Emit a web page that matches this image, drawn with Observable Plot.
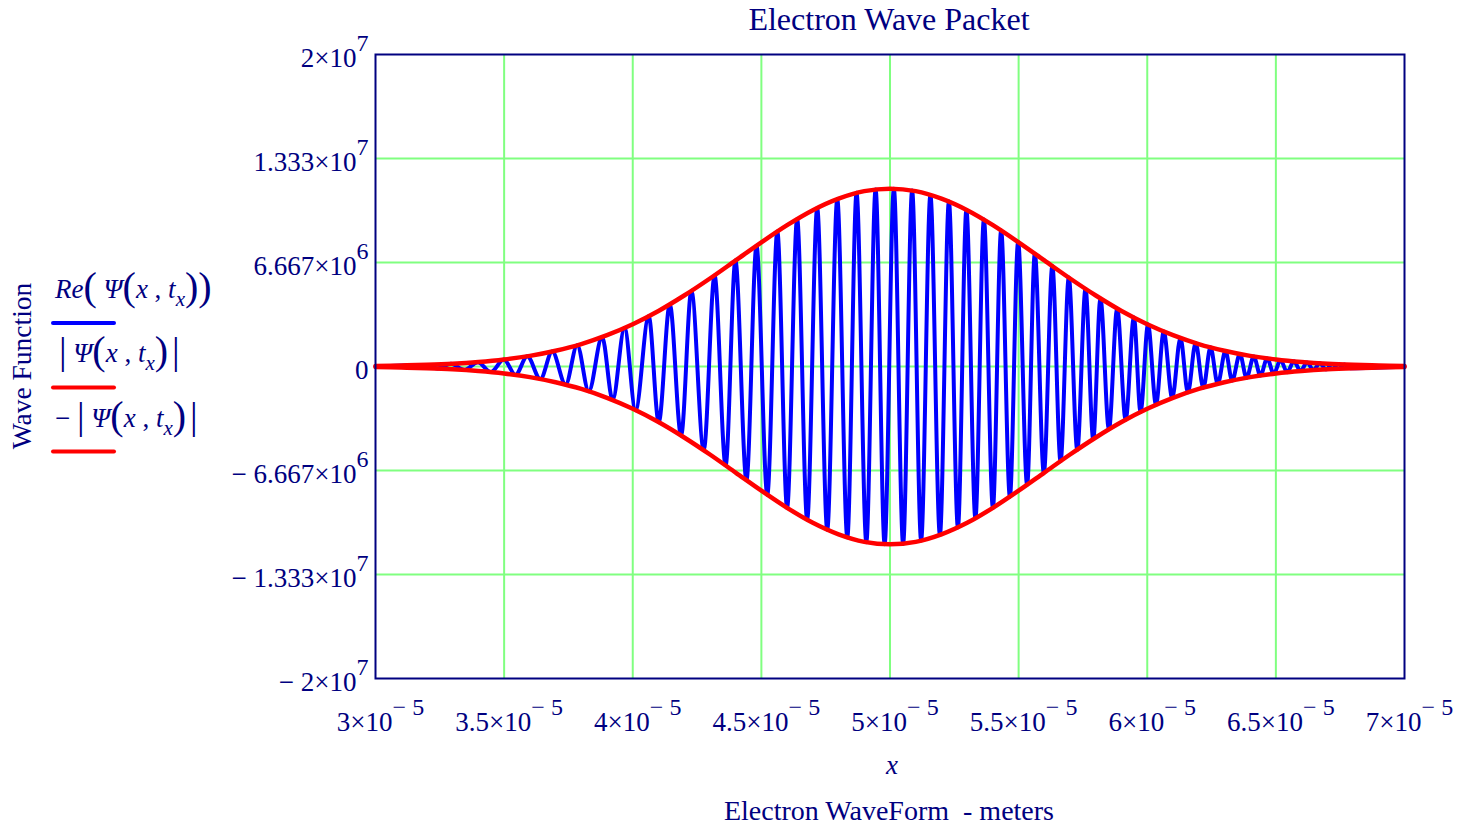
<!DOCTYPE html>
<html>
<head>
<meta charset="utf-8">
<script src="https://cdn.jsdelivr.net/npm/d3@7"></script>
<script src="https://cdn.jsdelivr.net/npm/@observablehq/plot@0.6"></script>
<style>
  body { margin: 0; background: #fff; }
  #chart { position: relative; width: 1474px; height: 827px; }
</style>
</head>
<body>
<div id="chart"></div>
<script>
// Position x in units of 1e-5 m, wave function values in units of 1e6
const waveX = [3.0,
  3.187, 3.241, 3.293, 3.346, 3.398, 3.448, 3.499, 3.544, 3.590, 3.641,
  3.687, 3.739, 3.784, 3.829, 3.881, 3.922, 3.968, 4.011, 4.062, 4.101,
  4.144, 4.188, 4.228, 4.276, 4.318, 4.361, 4.399, 4.442, 4.481, 4.523,
  4.562, 4.600, 4.639, 4.678, 4.717, 4.756, 4.795, 4.834, 4.870, 4.908,
  4.944, 4.979, 5.015, 5.051, 5.086, 5.121, 5.157, 5.194, 5.229, 5.264,
  5.297, 5.332, 5.365, 5.400, 5.432, 5.466, 5.498, 5.533, 5.563, 5.598,
  5.631, 5.663, 5.695, 5.728, 5.760, 5.790, 5.818, 5.851, 5.883, 5.916,
  5.948, 5.974, 6.003, 6.034, 6.064, 6.097, 6.129, 6.158, 6.188, 6.218,
  6.246, 6.274, 6.304, 6.330, 6.360, 6.386, 6.414, 6.440, 6.466, 6.492,
  6.518, 6.544, 6.570, 6.596, 6.621, 6.646, 6.671, 6.695, 6.719, 6.743,
  6.766, 6.789,
  7.0];
const waveRe = [0,
  0.10, -0.13, 0.17, -0.22, 0.28, -0.36, 0.45, -0.54, 0.65, -0.80,
  0.96, -1.16, 1.36, -1.59, 1.89, -2.15, 2.47, -2.80, 3.22, -3.57,
  3.98, -4.43, 4.85, -5.37, 5.84, -6.34, 6.79, -7.29, 7.74, -8.22,
  8.65, -9.06, 9.46, -9.82, 10.16, -10.47, 10.73, -10.96, 11.13, -11.26,
  11.35, -11.39, 11.40, -11.36, 11.28, -11.16, 11.00, -10.80, 10.58, -10.32,
  10.04, -9.73, 9.42, -9.06, 8.72, -8.35, 7.98, -7.58, 7.23, -6.82,
  6.44, -6.07, 5.70, -5.33, 4.97, -4.65, 4.36, -4.03, 3.72, -3.42,
  3.14, -2.92, 2.69, -2.45, 2.24, -2.02, 1.83, -1.66, 1.50, -1.36,
  1.23, -1.11, 0.99, -0.90, 0.80, -0.72, 0.64, -0.58, 0.52, -0.47,
  0.42, -0.37, 0.33, -0.29, 0.26, -0.23, 0.21, -0.18, 0.16, -0.15,
  0.13, -0.11,
  0];

// |Psi| envelope
const envX = [3.0, 3.1, 3.2, 3.3, 3.4, 3.5, 3.6, 3.7, 3.8, 3.9,
  4.0, 4.1, 4.2, 4.3, 4.4, 4.5, 4.6, 4.7, 4.8, 4.9,
  5.0, 5.1, 5.2, 5.3, 5.4, 5.5, 5.6, 5.7, 5.8, 5.9,
  6.0, 6.1, 6.2, 6.3, 6.4, 6.5, 6.6, 6.7, 6.8, 6.9, 7.0];
const envAbs = [0.036, 0.064, 0.11, 0.18, 0.29, 0.45, 0.68, 1.01, 1.44, 2.01,
  2.71, 3.56, 4.55, 5.64, 6.80, 7.96, 9.06, 10.02, 10.76, 11.24,
  11.40, 11.24, 10.76, 10.02, 9.06, 7.96, 6.80, 5.64, 4.55, 3.56,
  2.71, 2.01, 1.44, 1.01, 0.68, 0.45, 0.29, 0.18, 0.11, 0.064, 0.036];

const xTicks = [3, 3.5, 4, 4.5, 5, 5.5, 6, 6.5, 7];
const xTickLabels = ["3×10^− 5", "3.5×10^− 5", "4×10^− 5", "4.5×10^− 5", "5×10^− 5",
  "5.5×10^− 5", "6×10^− 5", "6.5×10^− 5", "7×10^− 5"];
const yTicks = [-20, -13.333, -6.667, 0, 6.667, 13.333, 20];
const yTickLabels = ["− 2×10^7", "− 1.333×10^7", "− 6.667×10^6", "0", "6.667×10^6", "1.333×10^7", "2×10^7"];

const titleText = "Electron Wave Packet";
const yLabelText = "Wave Function";
const xVarText = "x";
const xLabelText = "Electron WaveForm  - meters";

const NAVY = "#000080";
const FONT = "'Liberation Serif', 'Times New Roman', serif";

const wave = waveX.map((x, i) => ({x, v: waveRe[i]}));
const env = envX.map((x, i) => ({x, v: envAbs[i]}));

const plot = Plot.plot({
  width: 1474,
  height: 827,
  marginLeft: 375,
  marginRight: 70,
  marginTop: 54,
  marginBottom: 149,
  x: {domain: [3, 7]},
  y: {domain: [-20, 20]},
  style: {fontFamily: FONT, fontSize: "27px", color: NAVY, background: "white"},
  marks: [
    Plot.gridX(xTicks.slice(1, -1), {stroke: "#80ff80", strokeOpacity: 1, strokeWidth: 2}),
    Plot.gridY(yTicks.slice(1, -1), {stroke: "#80ff80", strokeOpacity: 1, strokeWidth: 2}),
    Plot.line(wave, {x: "x", y: "v", stroke: "#0000ff", strokeWidth: 4, curve: "monotone-x"}),
    Plot.line(env, {x: "x", y: "v", stroke: "#ff0000", strokeWidth: 4.5, curve: "catmull-rom"}),
    Plot.line(env, {x: "x", y: d => -d.v, stroke: "#ff0000", strokeWidth: 4.5, curve: "catmull-rom"}),
    Plot.frame({stroke: NAVY, strokeWidth: 2}),
    Plot.axisX(xTicks, {
      tickSize: 0, tickPadding: 33, dx: 5, label: null, fontSize: 27, fill: NAVY,
      tickFormat: d => xTickLabels[xTicks.indexOf(d)]
    }),
    Plot.axisY(yTicks, {
      tickSize: 0, tickPadding: 7, dy: 3.5, label: null, fontSize: 27, fill: NAVY,
      tickFormat: d => yTickLabels[yTicks.indexOf(d)]
    })
  ]
});

document.getElementById("chart").appendChild(plot);

const svg = d3.select(plot);

// Superscript exponents in tick labels
function superscript(selector) {
  svg.selectAll(selector).each(function() {
    const t = d3.select(this);
    const s = t.text();
    if (!s.includes("^")) return;
    const [base, exp] = s.split("^");
    t.text(null);
    t.append("tspan").text(base);
    t.append("tspan").attr("dy", -16).attr("font-size", 24).style("white-space", "pre").text(exp);
  });
}
superscript('g[aria-label="x-axis tick label"] text');
superscript('g[aria-label="y-axis tick label"] text');

const g = svg.append("g")
  .attr("font-family", FONT)
  .attr("fill", NAVY)
  .attr("text-anchor", "start");

// Title
g.append("text").attr("x", 889).attr("y", 30).attr("text-anchor", "middle")
  .attr("font-size", 32).text(titleText);

// x axis labels
g.append("text").attr("x", 892).attr("y", 774).attr("text-anchor", "middle")
  .attr("font-size", 27).attr("font-style", "italic").text(xVarText);
g.append("text").attr("x", 889).attr("y", 820).attr("text-anchor", "middle")
  .attr("font-size", 28).style("white-space", "pre").text(xLabelText);

// y axis label
g.append("text").attr("transform", "translate(31,366) rotate(-90)")
  .attr("text-anchor", "middle").attr("font-size", 27.5).text(yLabelText);

// Legend
function psiArgs(t) {
  t.append("tspan").attr("font-style", "italic").text("Ψ");
  t.append("tspan").attr("font-size", 40).attr("dy", 2).text("(");
  t.append("tspan").attr("font-style", "italic").attr("dy", -2).text("x");
  t.append("tspan").text(" , ");
  t.append("tspan").attr("font-style", "italic").text("t");
  t.append("tspan").attr("font-style", "italic").attr("font-size", 21).attr("dy", 8).text("x");
}
const legend = g.append("g").attr("font-size", 27).attr("text-anchor", "start");

const l1 = legend.append("text").attr("x", 55).attr("y", 298).style("white-space", "pre");
l1.append("tspan").attr("font-style", "italic").text("Re");
l1.append("tspan").attr("font-size", 40).attr("dy", 2).text("(");
l1.append("tspan").attr("dy", -2).text(" ");
psiArgs(l1);
l1.append("tspan").attr("font-size", 40).attr("dy", -6).text("))");

const l2 = legend.append("text").attr("x", 59).attr("y", 362).style("white-space", "pre");
l2.append("tspan").attr("font-size", 38).attr("dy", 2).text("|");
l2.append("tspan").attr("dy", -2).text(" ");
psiArgs(l2);
l2.append("tspan").attr("font-size", 40).attr("dy", -6).text(")");
l2.append("tspan").attr("font-size", 38).attr("dx", 4).text("|");

const l3 = legend.append("text").attr("x", 55).attr("y", 427).style("white-space", "pre");
l3.append("tspan").text("− ");
l3.append("tspan").attr("font-size", 38).attr("dy", 2).text("|");
l3.append("tspan").attr("dy", -2).text(" ");
psiArgs(l3);
l3.append("tspan").attr("font-size", 40).attr("dy", -6).text(")");
l3.append("tspan").attr("font-size", 38).attr("dx", 4).text("|");

const legendLines = [
  {y: 323, color: "#0000ff"},
  {y: 387.5, color: "#ff0000"},
  {y: 451.5, color: "#ff0000"}
];
legend.selectAll("line.key").data(legendLines).join("line")
  .attr("x1", 53).attr("x2", 114)
  .attr("y1", d => d.y).attr("y2", d => d.y)
  .attr("stroke", d => d.color).attr("stroke-width", 4).attr("stroke-linecap", "round");
</script>
</body>
</html>
